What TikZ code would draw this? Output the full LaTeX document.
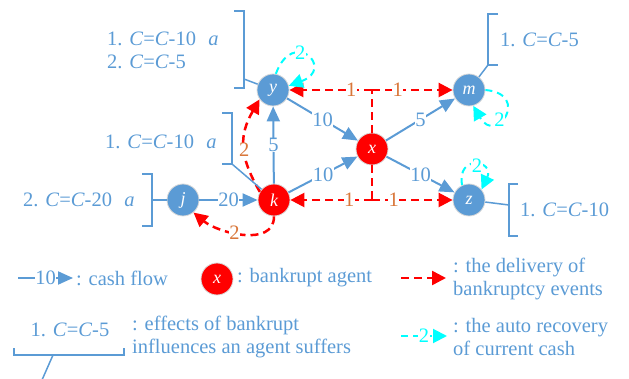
\documentclass[tikz,border=0pt]{standalone}
\usepackage{fontspec}
\setmainfont{Liberation Serif}
\usetikzlibrary{arrows.meta}
\definecolor{cashblue}{HTML}{5B9BD5}
\definecolor{hoporange}{HTML}{D9773A}
\definecolor{aqua}{RGB}{0,255,255}

\begin{document}
\begin{tikzpicture}[x=1pt,y=-1pt,
    font=\fontsize{20.5}{23}\selectfont,text=cashblue,
    agent/.style={circle,fill=cashblue,draw=gray!30,line width=0.8pt,minimum size=32pt,
      inner sep=0pt,text=white,font=\fontsize{18}{18}\selectfont\itshape},
    bankrupt/.style={agent,fill=red},
    flow/.style={draw=cashblue,line width=2pt,-{Triangle[length=15pt,width=13pt]}},
    event/.style={draw=red,line width=2.5pt,dash pattern=on 8pt off 5pt,
      -{Triangle[length=14pt,width=14pt]}},
    recover/.style={draw=aqua,line width=2pt,dash pattern=on 7pt off 5pt,
      -{Triangle[length=14pt,width=14pt]}},
    amt/.style={fill=white,inner sep=0.5pt,text=cashblue},
    hops/.style={fill=white,inner sep=0.5pt,text=hoporange},
    regain/.style={fill=white,inner sep=0.5pt,text=aqua},
    bracket/.style={draw=cashblue,line width=1.5pt},
    effect/.style={align=left,inner sep=1pt,text=cashblue}]
  \useasboundingbox (0,0) rectangle (629,379);
  % Agents
  \node[agent] (y) at (273,90) {y};
  \node[agent] (m) at (469,90) {m};
  \node[bankrupt] (x) at (372,149) {x};
  \node[bankrupt] (k) at (274,200) {k};
  \node[agent] (j) at (183,200) {j};
  \node[agent] (z) at (469,200) {z};
  % Cash flows
  \draw[flow] (k) -- node[amt] {5} (y);
  \draw[flow] (y) -- node[amt] {10} (x);
  \draw[flow] (k) -- node[amt] {10} (x);
  \draw[flow] (x) -- node[amt] {5} (m);
  \draw[flow] (x) -- node[amt] {10} (z);
  \draw[flow] (j) -- node[amt] {20} (k);
  % Bankruptcy events
  \coordinate (xtop) at (x |- y);
  \coordinate (xbot) at (x |- k);
  \draw[event,-] (x) -- (xtop);
  \draw[event,-] (x) -- (xbot);
  \draw[event] (xtop) -- node[hops,pos=0.25] {1} (y);
  \draw[event] (xtop) -- node[hops,pos=0.32] {1} (m);
  \draw[event] (xbot) -- node[hops,pos=0.28] {1} (k);
  \draw[event] (xbot) -- node[hops,pos=0.27] {1} (z);
  \draw[event] (k.150) to[out=120,in=240,looseness=1.15] node[hops,pos=0.45] {2} (y.215);
  \draw[event] (k.south) to[out=-90,in=-40] node[hops,pos=0.58] {2} (j.-50);
  % Recovery of cash
  \draw[recover] (y.80) to[out=70,in=20,min distance=50pt] node[regain,pos=0.38] {2} (y.15);
  \draw[recover] (m.0) to[out=-5,in=-60,min distance=46pt] node[regain,pos=0.62] {2} (m.-75);
  \draw[recover] (z.115) to[out=100,in=65,min distance=32pt] node[regain,pos=0.55] {2} (z.40);
  % Effects on agents
  \node[effect,anchor=west] (ynote) at (106,50) {1. \textit{C}=\textit{C}-10\hspace{0.6em}\textit{a}\\2. \textit{C}=\textit{C}-5};
  \draw[bracket] (234,11) -- (244,11) -- (244,88) -- (234,88);
  \coordinate (ytie) at (244,79);
  \draw[bracket] (ytie) -- (y);
  \node[effect,anchor=west] (mnote) at (499,40) {1. \textit{C}=\textit{C}-5};
  \draw[bracket] (498,14) -- (488,14) -- (488,65) -- (498,65);
  \coordinate (mtie) at (488,65);
  \draw[bracket] (mtie) -- (m);
  \node[effect,anchor=west] (knote) at (104,142) {1. \textit{C}=\textit{C}-10\hspace{0.6em}\textit{a}};
  \draw[bracket] (222,113) -- (232,113) -- (232,164) -- (222,164);
  \coordinate (ktie) at (232,164);
  \draw[bracket] (ktie) -- (k);
  \node[effect,anchor=west] (jnote) at (22,200) {2. \textit{C}=\textit{C}-20\hspace{0.6em}\textit{a}};
  \draw[bracket] (142,174) -- (152,174) -- (152,226) -- (142,226);
  \coordinate (jtie) at (152,200);
  \draw[bracket] (jtie) -- (j);
  \node[effect,anchor=west] (znote) at (519,210) {1. \textit{C}=\textit{C}-10};
  \draw[bracket] (518,184) -- (509,184) -- (509,236) -- (518,236);
  \coordinate (ztie) at (509,205);
  \draw[bracket] (ztie) -- (z);
  % Legend
  \coordinate (cf0) at (18,278);
  \coordinate (cf1) at (73,278);
  \draw[flow] (cf0) -- node[amt] {10} (cf1);
  \node[effect,anchor=west] (cftext) at (75,278) {: cash flow};
  \node[bankrupt] (xkey) at (217,279) {x};
  \node[effect,anchor=west] (xtext) at (236,278) {: bankrupt agent};
  \coordinate (ev0) at (401,278);
  \coordinate (ev1) at (446,278);
  \draw[event] (ev0) -- (ev1);
  \node[effect,anchor=west] (evtext) at (452,279) {: the delivery of\\bankruptcy events};
  \node[effect] (keynote) at (70,330) {1. \textit{C}=\textit{C}-5};
  \draw[bracket] (14,348) -- (14,355) -- (124,355) -- (124,348);
  \coordinate (keytie) at (53,355);
  \coordinate (keyend) at (42,380);
  \draw[bracket] (keytie) -- (keyend);
  \node[effect,anchor=west] (eftext) at (131,337) {: effects of bankrupt\\influences an agent suffers};
  \coordinate (rc0) at (401,336);
  \coordinate (rc1) at (447,336);
  \draw[recover] (rc0) -- node[regain] {2} (rc1);
  \node[effect,anchor=west] (rctext) at (452,337) {: the auto recovery\\of current cash};
\end{tikzpicture}
\end{document}
